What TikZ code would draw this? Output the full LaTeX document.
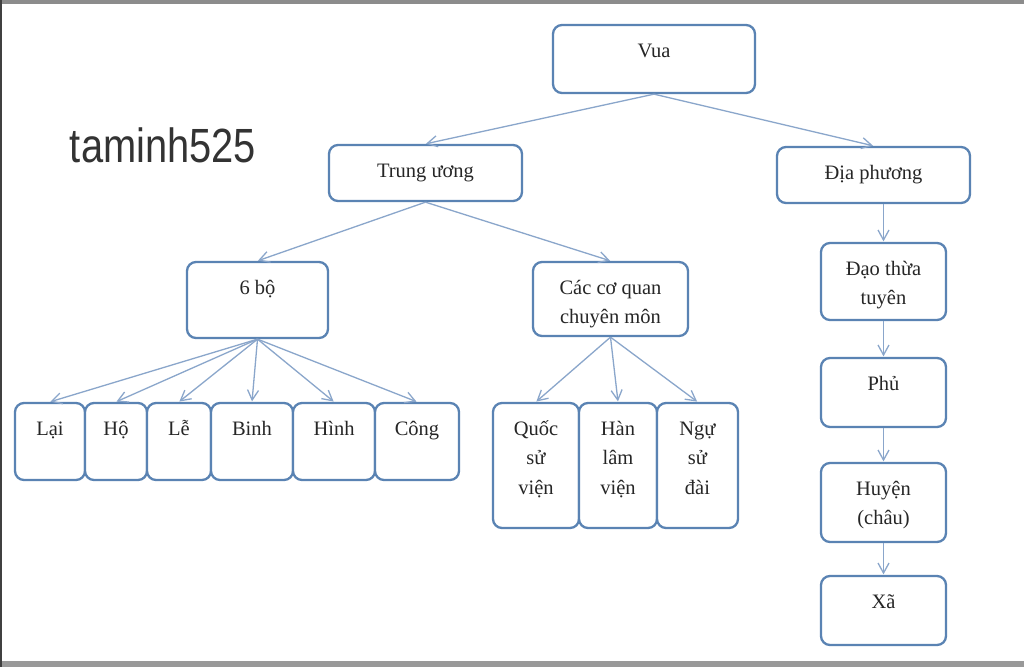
\documentclass[tikz,border=0pt]{standalone}
\usepackage{fontspec}
\usepackage{graphicx}
\setmainfont{Liberation Serif}
\newfontfamily\wmfont{Liberation Sans}
\usetikzlibrary{arrows.meta,calc}
\definecolor{boxc}{HTML}{5A83B3}
\definecolor{arrc}{HTML}{8AA6CB}
\definecolor{txtc}{HTML}{262626}
\definecolor{wmc}{HTML}{333333}
\newcommand\mybox[6]{%
  \node[box,minimum width={#4-#2},minimum height={#5-#3}] (#1) at ({(#2+#4)/2},{(#3+#5)/2}) {};
  \node[lbl] (#1t) at ($(#1.north)+(0,15)$) {\rule{0pt}{18pt}#6};
}
\begin{document}
\begin{tikzpicture}[x=1pt,y=-1pt,
  box/.style={draw=boxc,line width=2.3pt,rounded corners=9pt,fill=white,inner sep=0pt},
  lbl/.style={anchor=north,inner sep=0pt,align=center,text=txtc,font=\fontsize{20.5}{29.5}\selectfont},
  conn/.style={draw=arrc,line width=1.3pt,shorten >=0.5pt,-{Straight Barb[length=10pt,width=11pt,line width=1.3pt]}}]
\fill[white] (0,0) rectangle (1024,667);
\useasboundingbox (0,0) rectangle (1024,667);
\fill[black!45] (0,0) rectangle (1024,4);
\fill[black!40] (0,661) rectangle (1024,667);
\fill[black!75] (0,0) rectangle (2,667);

\node[font=\wmfont\fontsize{48}{48}\selectfont,text=wmc,inner sep=0pt] (wm) at (163,145) {\scalebox{0.83}[1]{taminh525}};

\mybox{vua}{553}{25}{755}{93}{Vua}
\mybox{tw}{329}{145}{522}{201}{Trung ương}
\mybox{dp}{777}{147}{970}{203}{Địa phương}
\mybox{bo}{187}{262}{328}{338}{6 bộ}
\mybox{cq}{533}{262}{688}{336}{Các cơ quan\\chuyên môn}
\mybox{lai}{15}{403}{85}{480}{Lại}
\mybox{ho}{85}{403}{147}{480}{Hộ}
\mybox{le}{147}{403}{211}{480}{Lễ}
\mybox{binh}{211}{403}{293}{480}{Binh}
\mybox{hinh}{293}{403}{375}{480}{Hình}
\mybox{cong}{375}{403}{459}{480}{Công}
\mybox{qsv}{493}{403}{579}{528}{Quốc\\sử\\viện}
\mybox{hlv}{579}{403}{657}{528}{Hàn\\lâm\\viện}
\mybox{nsd}{657}{403}{738}{528}{Ngự\\sử\\đài}
\mybox{dao}{821}{243}{946}{320}{Đạo thừa\\tuyên}
\mybox{phu}{821}{358}{946}{427}{Phủ}
\mybox{huyen}{821}{463}{946}{542}{Huyện\\(châu)}
\mybox{xa}{821}{576}{946}{645}{Xã}

\draw[conn] (vua.south) -- (tw.north);
\draw[conn] (vua.south) -- (dp.north);
\draw[conn] (tw.south) -- (bo.north);
\draw[conn] (tw.south) -- (cq.north);
\foreach \c in {lai,ho,le,binh,hinh,cong} \draw[conn] (bo.south) -- (\c.north);
\foreach \c in {qsv,hlv,nsd} \draw[conn] (cq.south) -- (\c.north);
\draw[conn] (dp.south -| dao.north) -- (dao.north);
\draw[conn] (dao.south) -- (phu.north);
\draw[conn] (phu.south) -- (huyen.north);
\draw[conn] (huyen.south) -- (xa.north);
\end{tikzpicture}
\end{document}
